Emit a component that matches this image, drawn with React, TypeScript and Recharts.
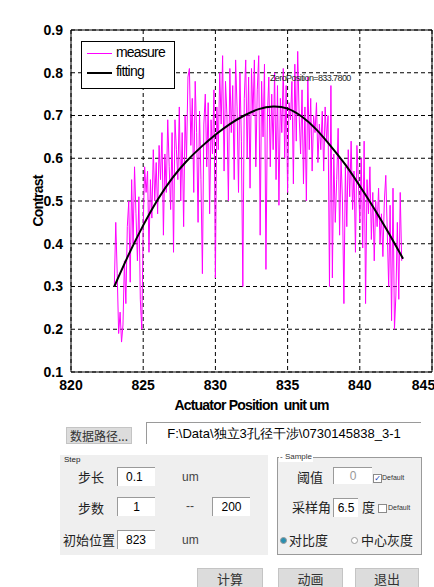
import React from "react";
import { LineChart, Line, XAxis, YAxis, CartesianGrid, ReferenceArea, ReferenceDot, Label } from "recharts";

// acquisition settings shown in the panel below the plot
const startPos = 823;
const stepLen = 0.1;
const zeroPosition = 833.78;

const measured: number[] = [
  0.30, 0.45, 0.33, 0.19, 0.24, 0.17, 0.21, 0.36, 0.26, 0.44,
  0.50, 0.31, 0.55, 0.40, 0.58, 0.47, 0.36, 0.51, 0.27, 0.20,
  0.44, 0.58, 0.52, 0.57, 0.38, 0.55, 0.46, 0.62, 0.50, 0.59,
  0.47, 0.63, 0.55, 0.66, 0.42, 0.61, 0.52, 0.69, 0.58, 0.48,
  0.66, 0.38, 0.69, 0.62, 0.55, 0.72, 0.50, 0.66, 0.44, 0.70,
  0.60, 0.79, 0.81, 0.63, 0.74, 0.52, 0.78, 0.66, 0.45, 0.71,
  0.55, 0.33, 0.68, 0.75, 0.58, 0.73, 0.47, 0.69, 0.61, 0.76,
  0.32, 0.72, 0.62, 0.80, 0.68, 0.84, 0.57, 0.78, 0.70, 0.50,
  0.81, 0.66, 0.77, 0.55, 0.83, 0.72, 0.52, 0.80, 0.64, 0.30,
  0.74, 0.83, 0.60, 0.79, 0.53, 0.81, 0.70, 0.83, 0.58, 0.76,
  0.84, 0.42, 0.78, 0.65, 0.82, 0.34, 0.70, 0.79, 0.58, 0.75,
  0.62, 0.80, 0.55, 0.77, 0.49, 0.74, 0.66, 0.81, 0.60, 0.77,
  0.52, 0.73, 0.69, 0.78, 0.54, 0.82, 0.64, 0.85, 0.70, 0.61,
  0.76, 0.54, 0.72, 0.50, 0.79, 0.62, 0.74, 0.57, 0.70, 0.66,
  0.73, 0.59, 0.68, 0.62, 0.71, 0.57, 0.72, 0.64, 0.70, 0.30,
  0.77, 0.32, 0.61, 0.45, 0.55, 0.67, 0.42, 0.60, 0.50, 0.26,
  0.58, 0.44, 0.62, 0.51, 0.64, 0.48, 0.57, 0.38, 0.63, 0.55,
  0.45, 0.60, 0.39, 0.64, 0.26, 0.55, 0.47, 0.58, 0.41, 0.52,
  0.36, 0.50, 0.44, 0.53, 0.40, 0.47, 0.37, 0.50, 0.56, 0.43,
  0.30, 0.49, 0.22, 0.53, 0.20, 0.28, 0.45, 0.27, 0.52, 0.36,
];

const fitX = [823, 824, 825, 826, 827, 828, 829, 830, 831, 832, 833, 834, 835, 836, 837, 838, 839, 840, 841, 842, 843];
const fitY = [0.30, 0.375, 0.443, 0.503, 0.553, 0.593, 0.626, 0.655, 0.68, 0.70, 0.715, 0.721, 0.716, 0.697, 0.667, 0.628, 0.585, 0.535, 0.482, 0.425, 0.365];

const xTicks = [820, 825, 830, 835, 840, 845];
const yTicks = [0.1, 0.2, 0.3, 0.4, 0.5, 0.6, 0.7, 0.8, 0.9];

const measureData = measured.map((v, i) => ({ x: +(startPos + i * stepLen).toFixed(1), y: v }));
const fitData = fitX.map((x, i) => ({ x, y: fitY[i] }));

const axisFont = { fontFamily: "Liberation Sans, Arial", fontSize: 14, fontWeight: 700, fill: "#000" };
const cjk = "'Noto Sans CJK SC', sans-serif";

function PlotLegend() {
  return (
    <div style={{ position: "absolute", left: 81, top: 41, width: 92, height: 46, border: "1px solid #000", background: "#fff", fontFamily: "Liberation Sans, Arial", fontSize: 14, letterSpacing: -0.8, color: "#000" }}>
      <div style={{ position: "absolute", left: 5, top: 11, width: 25, height: 1, background: "#ff00ff" }} />
      <div style={{ position: "absolute", left: 34, top: 2, lineHeight: "16px" }}>measure</div>
      <div style={{ position: "absolute", left: 5, top: 30, width: 25, height: 2, background: "#000" }} />
      <div style={{ position: "absolute", left: 34, top: 21, lineHeight: "16px" }}>fitting</div>
    </div>
  );
}

function Field({ left, top, width, height, text, color = "#000", align = "center", size = 12 }: any) {
  return (
    <div style={{ position: "absolute", left, top, width, height, background: "#fff", borderTop: "1px solid #9a9a9a", borderLeft: "1px solid #9a9a9a", fontFamily: "Liberation Sans, Arial", fontSize: size, color, textAlign: align, lineHeight: height + "px", boxSizing: "border-box", paddingLeft: align === "left" ? 8 : 0, whiteSpace: "nowrap" }}>
      {text}
    </div>
  );
}

function Txt({ left, top, text, size = 13, font = cjk, color = "#222" }: any) {
  return <div style={{ position: "absolute", left, top, fontFamily: font, fontSize: size, color, lineHeight: "18px", whiteSpace: "nowrap" }}>{text}</div>;
}

function Btn({ left, top, width, height, text, size = 13 }: any) {
  return (
    <div style={{ position: "absolute", left, top, width, height, background: "#dcdcdc", border: "1px solid #c4c4c4", boxSizing: "border-box", fontFamily: cjk, fontSize: size, color: "#333", textAlign: "center", lineHeight: height - 2 + "px" }}>
      {text}
    </div>
  );
}

function Check({ left, top, checked }: any) {
  return (
    <div style={{ position: "absolute", left, top, width: 7, height: 7, border: "1px solid #8a8a8a", background: "#fff", fontSize: 8, lineHeight: "7px", color: "#2040b0", textAlign: "center", fontFamily: "DejaVu Sans" }}>
      {checked ? "✓" : ""}
    </div>
  );
}

function Radio({ left, top, on }: any) {
  return (
    <div style={{ position: "absolute", left, top, width: 7, height: 7, borderRadius: 4, border: "1px solid #9a9a9a", background: on ? "#2a8fb0" : "#fff", boxSizing: "border-box" }} />
  );
}

export default function App() {
  return (
    <div style={{ position: "absolute", left: 0, top: 0, width: 434, height: 587, background: "#fff", overflow: "hidden" }}>
      <LineChart width={434} height={420} margin={{ top: 30, right: 2, left: 0, bottom: 0 }}>
        <CartesianGrid stroke="#000" strokeDasharray="4 3" />
        <XAxis dataKey="x" type="number" domain={[820, 845]} ticks={xTicks} height={48} tick={axisFont} tickLine={false} axisLine={false} allowDataOverflow tickMargin={2}>
          <Label value={"Actuator Position\u00a0 unit um"} position="insideBottom" offset={10} style={{ ...axisFont, letterSpacing: -0.8 }} />
        </XAxis>
        <YAxis type="number" domain={[0.1, 0.9]} ticks={yTicks} width={71} tick={axisFont} tickLine={false} axisLine={false} tickMargin={2}>
          <Label value="Contrast" angle={-90} position="insideLeft" offset={38} style={{ ...axisFont, letterSpacing: -0.8, textAnchor: "middle" }} />
        </YAxis>
        <ReferenceArea x1={820} x2={845} y1={0.1} y2={0.9} fill="none" stroke="#000" strokeWidth={1} ifOverflow="visible" />
        <Line data={measureData} dataKey="y" type="linear" stroke="#ff00ff" strokeWidth={1} dot={false} isAnimationActive={false} />
        <Line data={fitData} dataKey="y" type="natural" stroke="#000" strokeWidth={2} dot={false} isAnimationActive={false} />
        <ReferenceDot x={zeroPosition} y={0.787} r={0} ifOverflow="visible" shape={(p: any) => (
          <text x={p.cx} y={p.cy} fontFamily="Liberation Sans, Arial" fontSize={9} letterSpacing={-0.6} fill="#222" dominantBaseline="middle">ZeroPosition={zeroPosition.toFixed(4)}</text>
        )} />
      </LineChart>
      <PlotLegend />

      <Btn left={66} top={427} width={66} height={17} text="数据路径..." size={12} />
      <Field left={146} top={422} width={275} height={22} size={13} text="F:\Data\独立3孔径干涉\0730145838_3-1" />

      <div style={{ position: "absolute", left: 60, top: 455, width: 208, height: 100, background: "#efefef" }} />
      <Txt left={64} top={451} text="Step" size={8} font="Liberation Sans, Arial" />
      <Txt left={78} top={468} text="步长" />
      <Field left={117} top={467} width={38} height={19} text="0.1" align="left" />
      <Txt left={182} top={468} text="um" size={12} font="Liberation Sans, Arial" color="#444" />
      <Txt left={78} top={499} text="步数" />
      <Field left={117} top={497} width={38} height={19} text="1" />
      <Txt left={186} top={497} text="--" size={12} font="Liberation Sans, Arial" color="#444" />
      <Field left={212} top={497} width={38} height={19} text="200" />
      <Txt left={63} top={531} text="初始位置" />
      <Field left={117} top={530} width={38} height={19} text="823" align="left" />
      <Txt left={182} top={531} text="um" size={12} font="Liberation Sans, Arial" color="#444" />

      <div style={{ position: "absolute", left: 277, top: 457, width: 145, height: 98, background: "#f0f0f0", border: "1px solid #9a9a9a", boxSizing: "border-box" }} />
      <div style={{ position: "absolute", left: 279, top: 452, background: "#fff", fontFamily: "Liberation Sans, Arial", fontSize: 8, color: "#333", lineHeight: "10px", padding: "0 1px" }}>- Sample</div>
      <Txt left={297} top={468} text="阈值" />
      <Field left={333} top={467} width={39} height={17} text="0" color="#999" />
      <Check left={373} top={474} checked />
      <Txt left={382} top={469} text="Default" size={7} font="Liberation Sans, Arial" color="#333" />
      <Txt left={292} top={498} text="采样角" />
      <Field left={333} top={498} width={25} height={19} text="6.5" />
      <Txt left={362} top={498} text="度" />
      <Check left={378} top={504} checked={false} />
      <Txt left={388} top={499} text="Default" size={7} font="Liberation Sans, Arial" color="#333" />
      <Radio left={280} top={537} on />
      <Txt left={289} top={531} text="对比度" />
      <Radio left={351} top={537} on={false} />
      <Txt left={361} top={531} text="中心灰度" />

      <Btn left={197} top={568} width={66} height={21} text="计算" />
      <Btn left={278} top={568} width={65} height={21} text="动画" />
      <Btn left={355} top={568} width={64} height={21} text="退出" />
    </div>
  );
}
